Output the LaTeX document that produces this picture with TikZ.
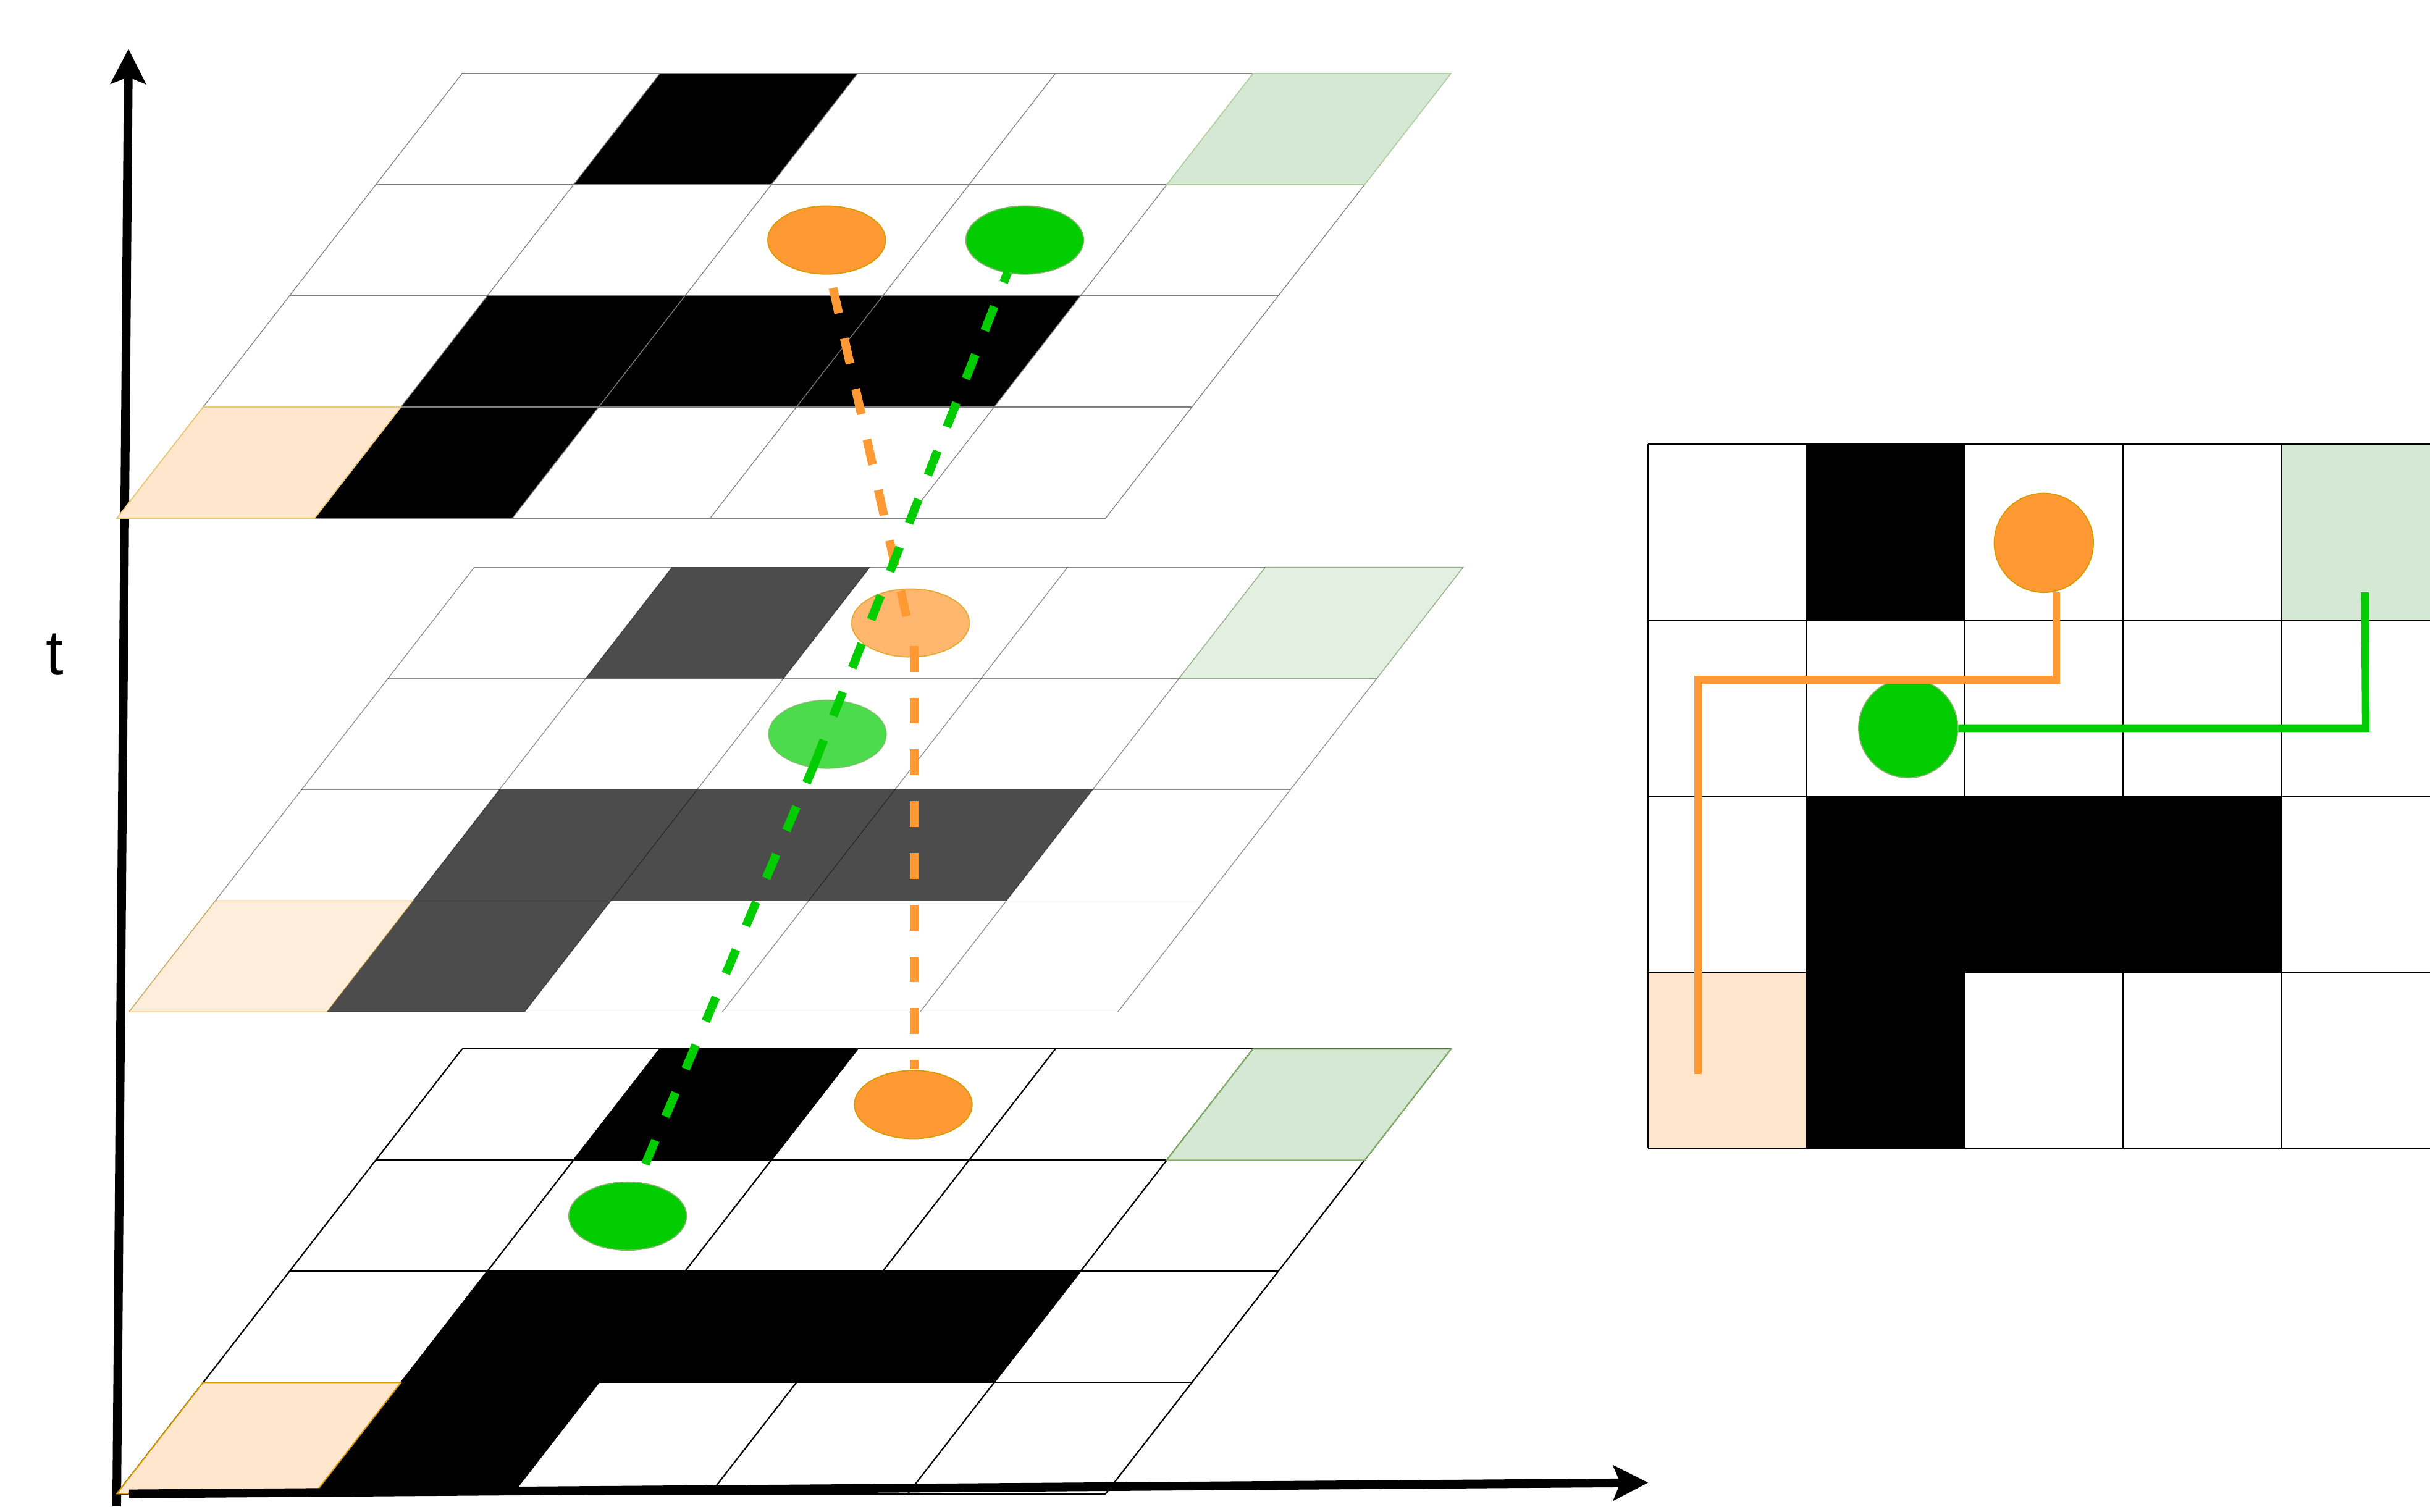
\documentclass[tikz,border=0pt]{standalone}
\usepackage{fontspec}
\setmainfont{Liberation Sans}
\usetikzlibrary{arrows.meta,shapes.geometric}
\definecolor{orfill}{HTML}{FFE6CC}
\definecolor{orstroke}{HTML}{D79B00}
\definecolor{grfill}{HTML}{D5E8D4}
\definecolor{grstroke}{HTML}{82B366}
\definecolor{agentor}{HTML}{FF9933}
\definecolor{agentgr}{HTML}{00CC00}
\tikzset{
  wallT/.style={fill=black},
  wallM/.style={fill=black,fill opacity=0.7},
  wallB/.style={fill=black},
  linesT/.style={draw=black!50,line width=0.5pt},
  linesM/.style={draw=black,draw opacity=0.45,line width=0.5pt},
  linesB/.style={draw=black,line width=0.9pt},
  startT/.style={fill=orfill,draw=orstroke!55,line width=0.7pt},
  startM/.style={fill=orfill,draw=orstroke,fill opacity=0.7,draw opacity=0.35,line width=0.7pt},
  startB/.style={fill=orfill,draw=orstroke,line width=0.8pt},
  goalT/.style={fill=grfill,draw=grstroke!60,line width=0.7pt},
  goalM/.style={fill=grfill,draw=grstroke,fill opacity=0.7,draw opacity=0.35,line width=0.7pt},
  goalB/.style={fill=grfill,draw=grstroke,line width=0.8pt},
  agentO/.style={ellipse,minimum width=76pt,minimum height=44pt,inner sep=0pt,fill=agentor,draw=orstroke,line width=0.7pt},
  agentG/.style={ellipse,minimum width=76pt,minimum height=44pt,inner sep=0pt,fill=agentgr,draw=grstroke,line width=0.7pt},
  faded/.style={opacity=0.7},
  flatO/.style={circle,minimum size=64pt,inner sep=0pt,fill=agentor,draw=orstroke,line width=0.7pt},
  flatG/.style={circle,minimum size=64pt,inner sep=0pt,fill=agentgr,draw=grstroke,line width=0.7pt},
  dashO/.style={draw=agentor,line width=5.6pt,dash pattern=on 16.7pt off 16.7pt},
  dashG/.style={draw=agentgr,line width=5.6pt,dash pattern=on 16.7pt off 16.7pt},
  pathO/.style={draw=agentor,line width=5pt},
  pathG/.style={draw=agentgr,line width=5pt},
  axisline/.style={line width=5.6pt,-{Stealth[length=22.4pt,width=22.5pt,inset=4.4pt]}},
  flatlines/.style={draw=black,line width=0.8pt}
}
\newcommand\skewgrid[3]{%
\begin{scope}[shift={(#1pt,-#2pt)},x={(127.6pt,0pt)},y={(-55.7pt,-71.75pt)}]
\foreach \c/\r in {1/0,1/2,2/2,3/2,1/3}
  \fill[wall#3] (\c,\r) -- ++(1,0) -- ++(0,1) -- ++(-1,0) -- cycle;
\foreach \r in {0,...,4} \draw[lines#3] (0,\r) -- (5,\r);
\foreach \c in {0,...,5} \draw[lines#3] (\c,0) -- ++(0,4);
\filldraw[start#3] (0,3) -- ++(1,0) -- ++(0,1) -- ++(-1,0) -- cycle;
\filldraw[goal#3] (4,0) -- ++(1,0) -- ++(0,1) -- ++(-1,0) -- cycle;
\end{scope}}
\begin{document}
\begin{tikzpicture}[x=1pt,y=-1pt]
\useasboundingbox (0,0) rectangle (1568,975.7);
\clip (0,0) rectangle (1568,975.7);
% vertical (time) axis
\coordinate (vaxB) at (75.3,972);
\coordinate (vaxT) at (82.9,31.6);
\draw[axisline] (vaxB) -- (vaxT);
% three time layers
\skewgrid{298.2}{47.4}{T}
\skewgrid{306.1}{366.0}{M}
\skewgrid{298.2}{676.9}{B}
% flat grid on the right
\begin{scope}[shift={(1063.4pt,-286.5pt)},x={(102.2pt,0pt)},y={(0pt,-113.6pt)}]
\foreach \c/\r in {1/0,1/2,2/2,3/2,1/3}
  \fill[black] (\c,\r) rectangle ++(1,1);
\fill[orfill] (0,3) rectangle ++(1,1);
\fill[grfill] (4,0) rectangle ++(1,1);
\foreach \r in {0,...,4} \draw[flatlines] (0,\r) -- (5,\r);
\foreach \c in {0,...,5} \draw[flatlines] (\c,0) -- ++(0,4);
\end{scope}
% horizontal axis
\coordinate (haxL) at (83.3,964);
\coordinate (haxR) at (1063.5,956.8);
\draw[axisline] (haxL) -- (haxR);
% agents
\node[agentO] (oT) at (533.4,154.9) {};
\node[agentG] (gT) at (661.2,154.9) {};
\node[agentO,faded] (oM) at (587.5,402) {};
\node[agentG,faded] (gM) at (533.9,473.8) {};
\node[agentO] (oB) at (589.3,712.8) {};
\node[agentG] (gB) at (405,784.8) {};
\node[flatO] (oR) at (1318.8,350.3) {};
\node[flatG] (gR) at (1231.3,469.9) {};
% dashed trajectories through time
\coordinate (oTs) at (537.5,185.8);
\coordinate (oMn) at (585,398);
\coordinate (oMs) at (590,416.8);
\coordinate (oBn) at (590,690);
\coordinate (gBn) at (416.4,751.3);
\coordinate (gMs) at (525.5,493.1);
\coordinate (gTs) at (650.2,175.7);
\draw[dashO] (oTs) -- (oMn);
\draw[dashO] (oMs) -- (oBn);
\draw[dashG] (gBn) -- (gMs);
\draw[dashG] (gMs) -- (gTs);
% flat paths
\coordinate (rO1) at (1326.9,382.3);
\coordinate (rO2) at (1326.9,438.7);
\coordinate (rO3) at (1095.6,438.7);
\coordinate (rO4) at (1095.6,693);
\draw[pathO] (rO1) -- (rO2) -- (rO3) -- (rO4);
\coordinate (rG2) at (1526.6,469.9);
\coordinate (rG3) at (1526,382.3);
\draw[pathG] (gR.east) -- (rG2) -- (rG3);
% label
\node[font=\fontsize{41}{49}\selectfont,inner sep=0pt] (tlab) at (35.4,422.2) {t};
\end{tikzpicture}
\end{document}
